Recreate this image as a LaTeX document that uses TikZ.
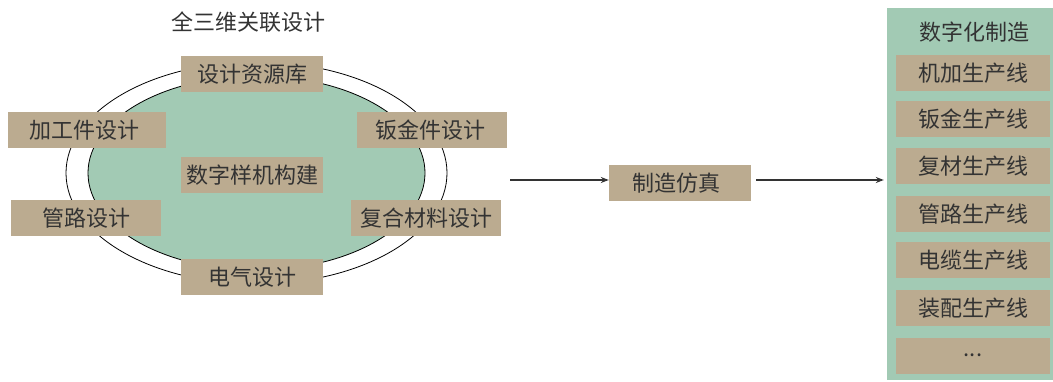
\documentclass[tikz,border=0pt]{standalone}
\usepackage{fontspec}
\newfontfamily\cjk{Noto Sans CJK SC}
\usetikzlibrary{arrows.meta}
\definecolor{boxtan}{RGB}{187,171,144}
\definecolor{sage}{RGB}{162,202,180}
\definecolor{ink}{RGB}{51,51,51}
\begin{document}
\begin{tikzpicture}[x=1pt,y=-1pt,
  tbox/.style={fill=boxtan, draw=none, inner sep=0pt, minimum height=36pt, text=ink,
    font=\cjk\fontsize{22}{26}\selectfont},
  lbl/.style={inner sep=0pt, text=ink, font=\cjk\fontsize{22}{26}\selectfont},
  arr/.style={draw=ink, line width=1.2pt, -{Stealth[length=8pt,width=6pt]}}]
\useasboundingbox (0,0) rectangle (1053,382);
% ellipses
\draw[black, line width=0.8pt, fill=white] (256.5,173) ellipse [x radius=190.5, y radius=111];
\draw[black, line width=0.8pt, fill=sage] (256.5,173) ellipse [x radius=168.5, y radius=97];
\node[lbl] (title) at (248,22) {全三维关联设计};
% design boxes
\node[tbox, minimum width=142pt] (res) at (252,74) {设计资源库};
\node[tbox, minimum width=158pt] (jg) at (87,130) {\hspace*{-5pt}加工件设计};
\node[tbox, minimum width=150pt] (bj) at (432,130) {\hspace*{-4pt}钣金件设计};
\node[tbox, minimum width=142pt] (sz) at (252,175) {数字样机构建};
\node[tbox, minimum width=150pt] (gl) at (86,218) {管路设计};
\node[tbox, minimum width=150pt] (fh) at (426,218) {复合材料设计};
\node[tbox, minimum width=142pt] (dq) at (252,277) {电气设计};
% simulation
\node[tbox, minimum width=142pt] (zz) at (680,183) {\hspace*{-8pt}制造仿真};
% right panel
\node[fill=sage, draw=none, inner sep=0pt, minimum width=166pt, minimum height=372pt] (panel) at (970,194) {};
\node[lbl] (ptitle) at (974,32) {数字化制造};
\node[tbox, minimum width=154pt] (p1) at (973,73) {机加生产线};
\node[tbox, minimum width=154pt] (p2) at (973,119.5) {钣金生产线};
\node[tbox, minimum width=154pt] (p3) at (973,166.5) {复材生产线};
\node[tbox, minimum width=154pt] (p4) at (973,214) {管路生产线};
\node[tbox, minimum width=154pt] (p5) at (973,260.5) {电缆生产线};
\node[tbox, minimum width=154pt] (p6) at (973,308) {装配生产线};
\node[tbox, minimum width=154pt] (p7) at (973,355.5) {...};
% arrows
\coordinate (a1) at (510,180);
\coordinate (a2) at (756,180);
\draw[arr] (a1) -- (a1 -| zz.west);
\draw[arr] (a2) -- ([xshift=-3pt]a2 -| panel.west);
\end{tikzpicture}
\end{document}
